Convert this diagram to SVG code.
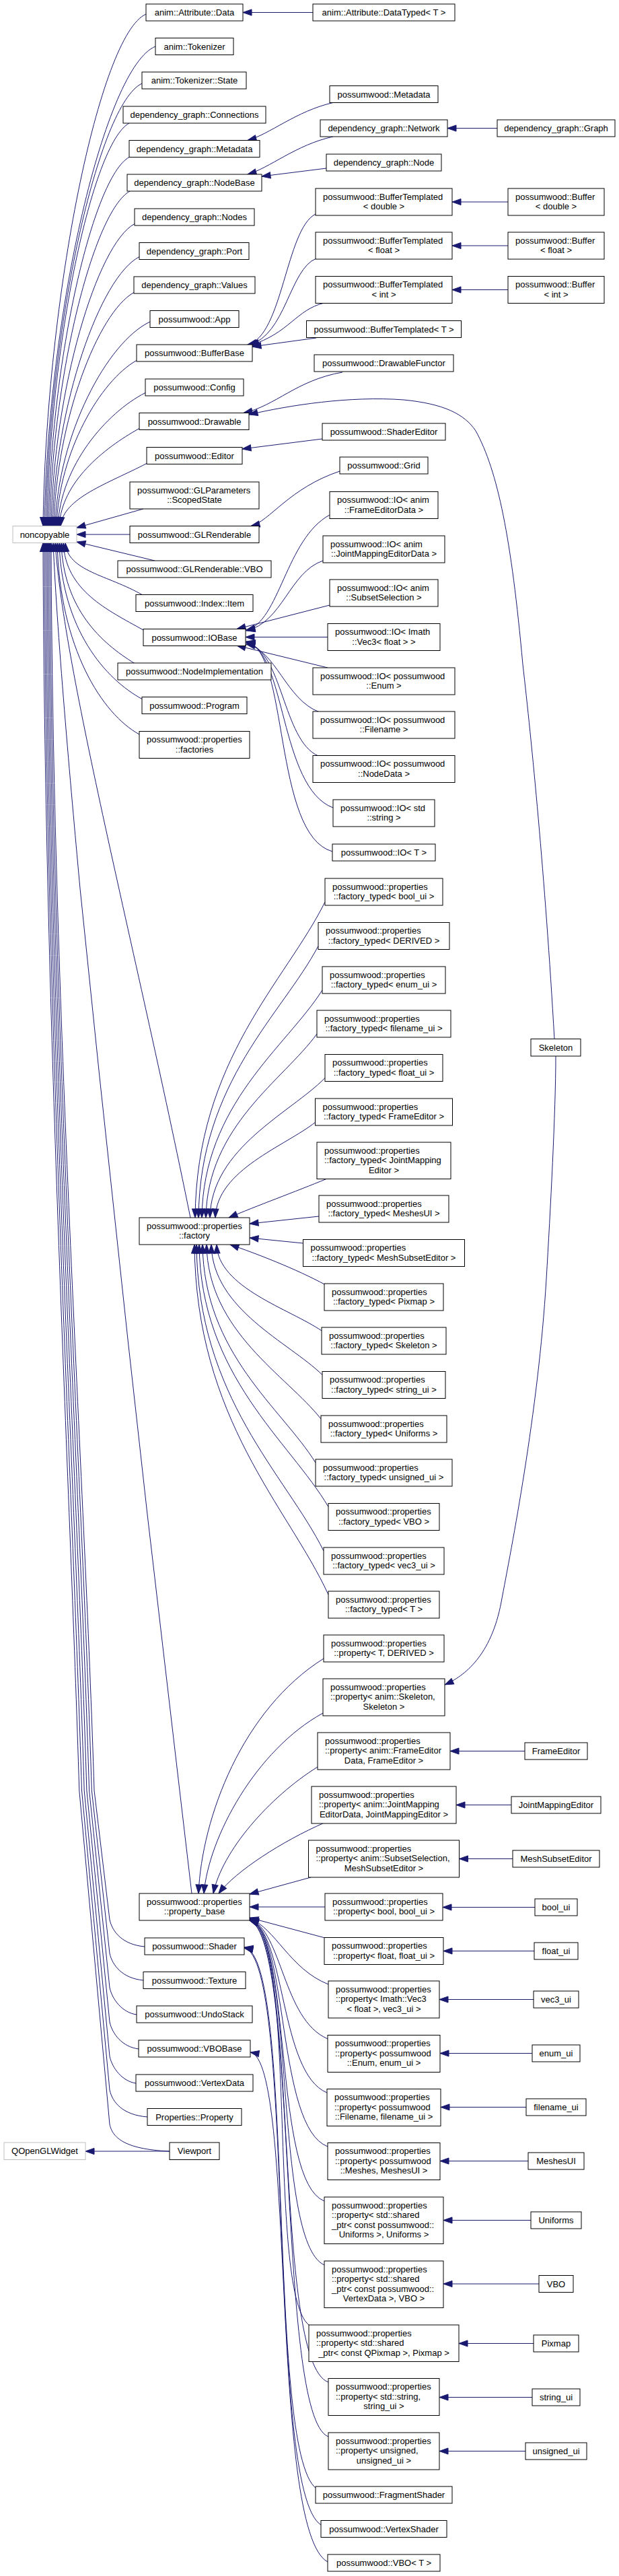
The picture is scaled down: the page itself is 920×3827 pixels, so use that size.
<svg xmlns="http://www.w3.org/2000/svg" width="920" height="3827" viewBox="0 0 920 3827">
<style>
text{font-family:"Liberation Sans",Arial,Helvetica,sans-serif;font-size:13px;fill:#000}
.c{text-anchor:middle}
.n rect{fill:#fff;stroke:#000;stroke-width:1}
.g rect{fill:#fff;stroke:#bfbfbf;stroke-width:1}
#edges path{fill:none;stroke:#191970;stroke-width:1;marker-start:url(#ah)}
</style>
<defs>
<marker id="ah" markerUnits="userSpaceOnUse" markerWidth="14" markerHeight="10" refX="0" refY="5" orient="auto" overflow="visible"><path d="M0,5 L13,0.4 L13,9.6 Z" fill="#191970" stroke="#191970" stroke-width="1"/></marker>
</defs>
<rect x="0" y="0" width="920" height="3827" fill="#fff"/>
<g id="edges">
<!-- noncopyable top -->
<path d="M64,781.5 C68.6,439.3 148.1,51 217,21"/>
<path d="M66,781.5 C71,460.9 156.75,99 231,69"/>
<path d="M68,781.5 C72.3,485.6 146.65,154 211,124"/>
<path d="M70,781.5 C73.7,512.2 137.1,213 192,183"/>
<path d="M72,781.5 C75.6,534.9 138,263.5 192,233.5"/>
<path d="M74,781.5 C77.6,557.6 139.45,314 193,284"/>
<path d="M76,781.5 C79.7,579.4 144.2,362.5 200,332.5"/>
<path d="M78,781.5 C81.9,601.5 148.95,411.5 207,381.5"/>
<path d="M80,781.5 C83.6,625.35 145.45,464.5 199,434.5"/>
<path d="M82,781.5 C86.2,644.9 159.55,508 223,478"/>
<path d="M84,781.5 C87.6,670.8 149.45,565.5 203,535.5"/>
<path d="M86,781.5 C89.9,692.4 157.5,613.5 216,583.5"/>
<path d="M88,781.5 C91.6,716.25 153.45,666.5 207,636.5"/>
<path d="M90,781.5 C93.8,739.65 160.4,718.5 218,688.5"/>
<path d="M114,784 L213,756"/>
<path d="M114,794 L193,794"/>
<path d="M114,805 L230,833"/>
<!-- noncopyable bottom near -->
<path d="M97,806.5 C100.5,849 160,854 212,884"/>
<path d="M94,806.5 C97.6,877.7 159.45,906 213,936"/>
<path d="M91,806.5 C94.3,905 151,955.5 200,985.5"/>
<path d="M88,806.5 C91.7,934.4 156.2,1009 212,1039"/>
<path d="M85,806.5 C88.7,963 152.1,1061 207,1091"/>
<!-- noncopyable long -->
<path d="M82,806.5 C95,1000 200,1400 283,1809"/>
<path d="M79,806.5 C85,950 108,1200 119,1320 L148,1600 L190,1990 L219,2250 L267,2660 L285,2813"/>
<path d="M76,806.5 C78,1500 126,2200 140,2660 L163,2852 C167,2870 182,2889 215,2892"/>
<path d="M74,806.5 C76,1500 122.3,2200 136.3,2660 L163,2902 C167,2920 182,2939 213,2942"/>
<path d="M72,806.5 C74,1500 118.6,2200 132.6,2660 L163,2953 C167,2971 182,2990 203,2993"/>
<path d="M70,806.5 C72,1500 114.9,2200 128.9,2660 L163,3004 C167,3022 182,3041 206,3044"/>
<path d="M68,806.5 C70,1500 111.2,2200 125.2,2660 L163,3055 C167,3073 182,3092 202,3095"/>
<path d="M66,806.5 C68,1500 107.5,2200 121.5,2660 L163,3105 C167,3123 182,3142 219,3145"/>
<path d="M64,806.5 C66,1500 103.8,2200 117.8,2660 L163,3156 C167,3174 182,3193 252,3196"/>
<!-- QOpenGLWidget -->
<path d="M127,3196 L252,3196"/>
<!-- top right groups -->
<path d="M361,18.5 L465,18.5"/>
<path d="M368,208.5 C400,200 440,165 495,152.5"/>
<path d="M368,259 C400,250 440,215 495,203"/>
<path d="M389,262 L485,250"/>
<path d="M665,190.5 L739,190.5"/>
<path d="M672,300 L755,300"/>
<path d="M672,365 L755,365"/>
<path d="M672,430.5 L755,430.5"/>
<path d="M368,512 C420,500 425,340 469,318"/>
<path d="M370,512.5 C425,498 430,400 470,384"/>
<path d="M372,513 C430,495 440,460 482,450"/>
<path d="M375,515 L470,502"/>
<path d="M362,613.5 C410,603 440,565 509,553"/>
<path d="M370,616 C430,602 520,588 600,594 C660,600 690,615 707,640 C740,700 760,800 777,987 C790,1100 810,1300 824,1543.5"/>
<path d="M360,667 L479,652"/>
<path d="M373,781.5 C400,775 430,725 505,700"/>
<!-- IOBase -->
<path d="M366,936 C415,925 425,800 490,765"/>
<path d="M366,937 C420,925 430,850 480,833"/>
<path d="M352,934.5 L490,899"/>
<path d="M365,946.5 L487,946.5"/>
<path d="M352,959 L487,992"/>
<path d="M366,957 C410,965 425,1040 475,1058"/>
<path d="M366,955 C420,965 420,1100 473,1123"/>
<path d="M366,954 C425,965 415,1170 495,1200"/>
<path d="M366,953 C430,965 405,1240 494,1265"/>
<!-- factory -->
<path d="M290,1809 C292,1574.5 425.1,1457.25 483,1340"/>
<path d="M295,1809 C297,1607.25 419.6,1506.4 473,1405.5"/>
<path d="M300,1809 C302,1640 425.3,1555.5 479,1471"/>
<path d="M306,1809 C308,1672.5 421.5,1604.25 471,1536"/>
<path d="M312,1809 C314,1705.25 431.7,1653.4 483,1601.5"/>
<path d="M320,1809 C322,1738 424.3,1702.5 469,1667"/>
<path d="M340,1809 C380,1792 440,1770 485,1751.5"/>
<path d="M371,1818 L474,1807"/>
<path d="M371,1839 L450.5,1847"/>
<path d="M342,1849 C380,1862 440,1885 484,1909"/>
<path d="M322,1849 C324,1913 431.2,1945 478,1977"/>
<path d="M314,1849 C316,1945.75 429.5,1994.1 479,2042.5"/>
<path d="M307,1849 C309,1978.5 426,2043.25 477,2108"/>
<path d="M301,1849 C303,2011 418.6,2092 469,2173"/>
<path d="M296,1849 C298,2043.75 430.4,2141.1 488,2238.5"/>
<path d="M292,1849 C294,2076.5 424.3,2190.25 481,2304"/>
<path d="M289,1849 C291,2109 428.3,2239 488,2369"/>
<!-- property_base -->
<path d="M295,2813 C300,2700 360,2540 481,2464"/>
<path d="M303,2813 C310,2730 380,2600 480,2545"/>
<path d="M317,2813 C330,2750 400,2670 472,2625"/>
<path d="M325,2813 C350,2780 420,2735 482,2708"/>
<path d="M371,2814 L462,2789"/>
<path d="M371,2833 L483,2833"/>
<path d="M371,2849 L483,2879"/>
<path d="M371,2850 C410,2865 430,2925 488,2948"/>
<path d="M371,2850 C420,2870 420,3000 487,3029"/>
<path d="M371,2851 C425,2870 415,3080 486,3109"/>
<path d="M371,2851 C430,2870 410,3160 487,3189"/>
<path d="M371,2852 C435,2875 405,3240 482,3270"/>
<path d="M371,2852 C440,2875 405,3330 482,3365"/>
<path d="M371,2852 C445,2875 395,3420 462,3456"/>
<path d="M371,2853 C445,2880 405,3510 488,3539"/>
<path d="M371,2853 C445,2880 410,3590 488,3620"/>
<!-- Shader, VBOBase -->
<path d="M363,2893 C440,2905 395,3640 470,3697"/>
<path d="M363,2894 C440,2910 395,3700 477,3751"/>
<path d="M372,3049 C440,3060 400,3760 487,3806"/>
<!-- Skeleton to property -->
<path d="M661,2503 C690,2490 730,2460 745,2380 C760,2300 800,2100 812,1900 C818,1800 826,1650 826,1569"/>
<!-- ui classes -->
<path d="M669,2601.5 L780,2601.5"/>
<path d="M678,2681.5 L760,2681.5"/>
<path d="M682.5,2761.5 L762,2761.5"/>
<path d="M658,2833.5 L795,2833.5"/>
<path d="M659,2898.5 L794,2898.5"/>
<path d="M653,2970.5 L793,2970.5"/>
<path d="M654,3050.5 L791,3050.5"/>
<path d="M655,3130.5 L782,3130.5"/>
<path d="M654,3210.5 L785,3210.5"/>
<path d="M659,3298.5 L789,3298.5"/>
<path d="M659,3393 L801,3393"/>
<path d="M682,3481.5 L793,3481.5"/>
<path d="M653,3561.5 L791,3561.5"/>
<path d="M653,3641.5 L781,3641.5"/>
</g>

<g class="g" id="n-noncopyable"><rect x="19" y="781.5" width="95" height="25"/><text class="c" x="66.5" y="798.5">noncopyable</text></g>
<g class="g" id="n-qopenglwidget"><rect x="6" y="3183" width="121" height="25.5"/><text class="c" x="66.5" y="3200">QOpenGLWidget</text></g>

<g class="n" id="n-attribute-data"><rect x="217" y="6" width="144" height="25"/><text class="c" x="289" y="23">anim::Attribute::Data</text></g>
<g class="n" id="n-tokenizer"><rect x="231" y="56.5" width="116" height="25"/><text class="c" x="289" y="73.5">anim::Tokenizer</text></g>
<g class="n" id="n-tokenizer-state"><rect x="211" y="107" width="155" height="25"/><text class="c" x="289" y="124">anim::Tokenizer::State</text></g>
<g class="n" id="n-connections"><rect x="183" y="158" width="212" height="25"/><text class="c" x="289" y="175">dependency_graph::Connections</text></g>
<g class="n" id="n-dg-metadata"><rect x="192" y="208.5" width="194" height="25"/><text class="c" x="289" y="225.5">dependency_graph::Metadata</text></g>
<g class="n" id="n-nodebase"><rect x="189" y="259" width="200" height="25"/><text class="c" x="289" y="276">dependency_graph::NodeBase</text></g>
<g class="n" id="n-nodes"><rect x="200" y="310" width="178" height="25"/><text class="c" x="289" y="327">dependency_graph::Nodes</text></g>
<g class="n" id="n-port"><rect x="207" y="360.5" width="163" height="25"/><text class="c" x="289" y="377.5">dependency_graph::Port</text></g>
<g class="n" id="n-values"><rect x="199" y="411" width="180" height="25"/><text class="c" x="289" y="428">dependency_graph::Values</text></g>
<g class="n" id="n-app"><rect x="223" y="461.5" width="132" height="25"/><text class="c" x="289" y="478.5">possumwood::App</text></g>
<g class="n" id="n-bufferbase"><rect x="203" y="512" width="172" height="25"/><text class="c" x="289" y="529">possumwood::BufferBase</text></g>
<g class="n" id="n-config"><rect x="216" y="563" width="146" height="25"/><text class="c" x="289" y="580">possumwood::Config</text></g>
<g class="n" id="n-drawable"><rect x="207" y="613.5" width="163" height="25"/><text class="c" x="289" y="630.5">possumwood::Drawable</text></g>
<g class="n" id="n-editor"><rect x="218" y="664.5" width="142" height="25"/><text class="c" x="289" y="681.5">possumwood::Editor</text></g>
<g class="n" id="n-glparameters"><rect x="193" y="716" width="192" height="40"/><text x="204" y="732.5">possumwood::GLParameters</text><text class="c" x="289" y="747">::ScopedState</text></g>
<g class="n" id="n-glrenderable"><rect x="193" y="781.5" width="192" height="25"/><text class="c" x="289" y="798.5">possumwood::GLRenderable</text></g>
<g class="n" id="n-glrenderable-vbo"><rect x="175" y="833" width="228" height="25"/><text class="c" x="289" y="850">possumwood::GLRenderable::VBO</text></g>
<g class="n" id="n-index-item"><rect x="202" y="883.5" width="174" height="25"/><text class="c" x="289" y="900.5">possumwood::Index::Item</text></g>
<g class="n" id="n-iobase"><rect x="213" y="934.5" width="152" height="25"/><text class="c" x="289" y="951.5">possumwood::IOBase</text></g>
<g class="n" id="n-nodeimplementation"><rect x="175" y="985" width="228" height="25"/><text class="c" x="289" y="1002">possumwood::NodeImplementation</text></g>
<g class="n" id="n-program"><rect x="211" y="1035.5" width="156" height="25"/><text class="c" x="289" y="1052.5">possumwood::Program</text></g>
<g class="n" id="n-factories"><rect x="207" y="1086.5" width="164" height="40"/><text x="218" y="1103">possumwood::properties</text><text class="c" x="289" y="1117.5">::factories</text></g>
<g class="n" id="n-factory"><rect x="207" y="1809" width="164" height="40"/><text x="218" y="1825.5">possumwood::properties</text><text class="c" x="289" y="1840">::factory</text></g>
<g class="n" id="n-property-base"><rect x="207" y="2813" width="164" height="40"/><text x="218" y="2829.5">possumwood::properties</text><text class="c" x="289" y="2844">::property_base</text></g>
<g class="n" id="n-shader"><rect x="215" y="2879" width="148" height="25"/><text class="c" x="289" y="2896">possumwood::Shader</text></g>
<g class="n" id="n-texture"><rect x="213" y="2929.5" width="152" height="25"/><text class="c" x="289" y="2946.5">possumwood::Texture</text></g>
<g class="n" id="n-undostack"><rect x="203" y="2980" width="172" height="25"/><text class="c" x="289" y="2997">possumwood::UndoStack</text></g>
<g class="n" id="n-vbobase"><rect x="206" y="3031" width="166" height="25"/><text class="c" x="289" y="3048">possumwood::VBOBase</text></g>
<g class="n" id="n-vertexdata"><rect x="202" y="3082" width="174" height="25"/><text class="c" x="289" y="3099">possumwood::VertexData</text></g>
<g class="n" id="n-properties-property"><rect x="219" y="3132.5" width="140" height="25"/><text class="c" x="289" y="3149.5">Properties::Property</text></g>
<g class="n" id="n-viewport"><rect x="252" y="3183" width="74" height="25.5"/><text class="c" x="289" y="3200">Viewport</text></g>

<g class="n" id="n-datatyped"><rect x="465" y="6" width="211" height="25"/><text class="c" x="570.5" y="23">anim::Attribute::DataTyped&lt; T &gt;</text></g>
<g class="n" id="n-pw-metadata"><rect x="490" y="127.5" width="161" height="25"/><text class="c" x="570.5" y="144.5">possumwood::Metadata</text></g>
<g class="n" id="n-network"><rect x="476" y="178" width="189" height="25"/><text class="c" x="570.5" y="195">dependency_graph::Network</text></g>
<g class="n" id="n-graph"><rect x="739" y="178" width="175" height="25"/><text class="c" x="826.5" y="195">dependency_graph::Graph</text></g>
<g class="n" id="n-node"><rect x="485" y="229" width="171" height="25"/><text class="c" x="570.5" y="246">dependency_graph::Node</text></g>
<g class="n" id="n-bt-double"><rect x="469" y="280" width="203" height="40"/><text x="480" y="296.5">possumwood::BufferTemplated</text><text class="c" x="570.5" y="311">&lt; double &gt;</text></g>
<g class="n" id="n-buffer-double"><rect x="755" y="280" width="143" height="40"/><text x="766" y="296.5">possumwood::Buffer</text><text class="c" x="826.5" y="311">&lt; double &gt;</text></g>
<g class="n" id="n-bt-float"><rect x="469" y="345" width="203" height="40"/><text x="480" y="361.5">possumwood::BufferTemplated</text><text class="c" x="570.5" y="376">&lt; float &gt;</text></g>
<g class="n" id="n-buffer-float"><rect x="755" y="345" width="143" height="40"/><text x="766" y="361.5">possumwood::Buffer</text><text class="c" x="826.5" y="376">&lt; float &gt;</text></g>
<g class="n" id="n-bt-int"><rect x="469" y="410.5" width="203" height="40"/><text x="480" y="427">possumwood::BufferTemplated</text><text class="c" x="570.5" y="441.5">&lt; int &gt;</text></g>
<g class="n" id="n-buffer-int"><rect x="755" y="410.5" width="143" height="40"/><text x="766" y="427">possumwood::Buffer</text><text class="c" x="826.5" y="441.5">&lt; int &gt;</text></g>
<g class="n" id="n-bt-t"><rect x="455.5" y="476.5" width="230" height="25"/><text class="c" x="570.5" y="493.5">possumwood::BufferTemplated&lt; T &gt;</text></g>
<g class="n" id="n-drawablefunctor"><rect x="467" y="527" width="207" height="25"/><text class="c" x="570.5" y="544">possumwood::DrawableFunctor</text></g>
<g class="n" id="n-shadereditor"><rect x="479" y="629" width="183" height="25"/><text class="c" x="570.5" y="646">possumwood::ShaderEditor</text></g>
<g class="n" id="n-grid"><rect x="505" y="679" width="131" height="25"/><text class="c" x="570.5" y="696">possumwood::Grid</text></g>
<g class="n" id="n-io-frameeditordata"><rect x="490" y="730.5" width="161" height="40"/><text x="501" y="747">possumwood::IO&lt; anim</text><text class="c" x="570.5" y="761.5">::FrameEditorData &gt;</text></g>
<g class="n" id="n-io-jointmapping"><rect x="480" y="796" width="181" height="40"/><text x="491" y="812.5">possumwood::IO&lt; anim</text><text class="c" x="570.5" y="827">::JointMappingEditorData &gt;</text></g>
<g class="n" id="n-io-subsetselection"><rect x="490" y="861" width="161" height="40"/><text x="501" y="877.5">possumwood::IO&lt; anim</text><text class="c" x="570.5" y="892">::SubsetSelection &gt;</text></g>
<g class="n" id="n-io-vec3"><rect x="487" y="926.5" width="167" height="40"/><text x="498" y="943">possumwood::IO&lt; Imath</text><text class="c" x="570.5" y="957.5">::Vec3&lt; float &gt; &gt;</text></g>
<g class="n" id="n-io-enum"><rect x="465" y="992" width="211" height="40"/><text x="476" y="1008.5">possumwood::IO&lt; possumwood</text><text class="c" x="570.5" y="1023">::Enum &gt;</text></g>
<g class="n" id="n-io-filename"><rect x="465" y="1057" width="211" height="40"/><text x="476" y="1073.5">possumwood::IO&lt; possumwood</text><text class="c" x="570.5" y="1088">::Filename &gt;</text></g>
<g class="n" id="n-io-nodedata"><rect x="465" y="1122.5" width="211" height="40"/><text x="476" y="1139">possumwood::IO&lt; possumwood</text><text class="c" x="570.5" y="1153.5">::NodeData &gt;</text></g>
<g class="n" id="n-io-string"><rect x="495" y="1188" width="151" height="40"/><text x="506" y="1204.5">possumwood::IO&lt; std</text><text class="c" x="570.5" y="1219">::string &gt;</text></g>
<g class="n" id="n-io-t"><rect x="494" y="1254" width="153" height="25"/><text class="c" x="570.5" y="1271">possumwood::IO&lt; T &gt;</text></g>

<g class="n" id="n-ft-bool"><rect x="483" y="1305" width="175" height="40"/><text x="494" y="1321.5">possumwood::properties</text><text class="c" x="570.5" y="1336">::factory_typed&lt; bool_ui &gt;</text></g>
<g class="n" id="n-ft-derived"><rect x="473" y="1370.5" width="195" height="40"/><text x="484" y="1387">possumwood::properties</text><text class="c" x="570.5" y="1401.5">::factory_typed&lt; DERIVED &gt;</text></g>
<g class="n" id="n-ft-enum"><rect x="479" y="1436" width="183" height="40"/><text x="490" y="1452.5">possumwood::properties</text><text class="c" x="570.5" y="1467">::factory_typed&lt; enum_ui &gt;</text></g>
<g class="n" id="n-ft-filename"><rect x="471" y="1501" width="199" height="40"/><text x="482" y="1517.5">possumwood::properties</text><text class="c" x="570.5" y="1532">::factory_typed&lt; filename_ui &gt;</text></g>
<g class="n" id="n-ft-float"><rect x="483" y="1566.5" width="175" height="40"/><text x="494" y="1583">possumwood::properties</text><text class="c" x="570.5" y="1597.5">::factory_typed&lt; float_ui &gt;</text></g>
<g class="n" id="n-ft-frameeditor"><rect x="468.5" y="1632" width="204" height="40"/><text x="479.5" y="1648.5">possumwood::properties</text><text class="c" x="570.5" y="1663">::factory_typed&lt; FrameEditor &gt;</text></g>
<g class="n" id="n-ft-jointmapping"><rect x="471" y="1697" width="199" height="54.5"/><text x="482" y="1713.5">possumwood::properties</text><text x="482" y="1728">::factory_typed&lt; JointMapping</text><text class="c" x="570.5" y="1742.5">Editor &gt;</text></g>
<g class="n" id="n-ft-meshesui"><rect x="474" y="1776" width="193" height="40"/><text x="485" y="1792.5">possumwood::properties</text><text class="c" x="570.5" y="1807">::factory_typed&lt; MeshesUI &gt;</text></g>
<g class="n" id="n-ft-meshsubseteditor"><rect x="450.5" y="1841.5" width="240" height="40"/><text x="461.5" y="1858">possumwood::properties</text><text class="c" x="570.5" y="1872.5">::factory_typed&lt; MeshSubsetEditor &gt;</text></g>
<g class="n" id="n-ft-pixmap"><rect x="482" y="1907" width="177" height="40"/><text x="493" y="1923.5">possumwood::properties</text><text class="c" x="570.5" y="1938">::factory_typed&lt; Pixmap &gt;</text></g>
<g class="n" id="n-ft-skeleton"><rect x="478" y="1972" width="185" height="40"/><text x="489" y="1988.5">possumwood::properties</text><text class="c" x="570.5" y="2003">::factory_typed&lt; Skeleton &gt;</text></g>
<g class="n" id="n-ft-string"><rect x="479" y="2037.5" width="183" height="40"/><text x="490" y="2054">possumwood::properties</text><text class="c" x="570.5" y="2068.5">::factory_typed&lt; string_ui &gt;</text></g>
<g class="n" id="n-ft-uniforms"><rect x="477" y="2103" width="187" height="40"/><text x="488" y="2119.5">possumwood::properties</text><text class="c" x="570.5" y="2134">::factory_typed&lt; Uniforms &gt;</text></g>
<g class="n" id="n-ft-unsigned"><rect x="469" y="2168" width="203" height="40"/><text x="480" y="2184.5">possumwood::properties</text><text class="c" x="570.5" y="2199">::factory_typed&lt; unsigned_ui &gt;</text></g>
<g class="n" id="n-ft-vbo"><rect x="488" y="2233.5" width="165" height="40"/><text x="499" y="2250">possumwood::properties</text><text class="c" x="570.5" y="2264.5">::factory_typed&lt; VBO &gt;</text></g>
<g class="n" id="n-ft-vec3"><rect x="481" y="2299" width="179" height="40"/><text x="492" y="2315.5">possumwood::properties</text><text class="c" x="570.5" y="2330">::factory_typed&lt; vec3_ui &gt;</text></g>
<g class="n" id="n-ft-t"><rect x="488" y="2364" width="165" height="40"/><text x="499" y="2380.5">possumwood::properties</text><text class="c" x="570.5" y="2395">::factory_typed&lt; T &gt;</text></g>

<g class="n" id="n-p-t-derived"><rect x="481" y="2429" width="179" height="40"/><text x="492" y="2445.5">possumwood::properties</text><text class="c" x="570.5" y="2460">::property&lt; T, DERIVED &gt;</text></g>
<g class="n" id="n-p-skeleton"><rect x="480" y="2494" width="181" height="55"/><text x="491" y="2510.5">possumwood::properties</text><text x="491" y="2525">::property&lt; anim::Skeleton,</text><text class="c" x="570.5" y="2539.5">Skeleton &gt;</text></g>
<g class="n" id="n-p-frameeditor"><rect x="472" y="2574" width="197" height="55"/><text x="483" y="2590.5">possumwood::properties</text><text x="483" y="2605">::property&lt; anim::FrameEditor</text><text class="c" x="570.5" y="2619.5">Data, FrameEditor &gt;</text></g>
<g class="n" id="n-p-jointmapping"><rect x="463" y="2654" width="215" height="55"/><text x="474" y="2670.5">possumwood::properties</text><text x="474" y="2685">::property&lt; anim::JointMapping</text><text class="c" x="570.5" y="2699.5">EditorData, JointMappingEditor &gt;</text></g>
<g class="n" id="n-p-subsetselection"><rect x="458.5" y="2734" width="224" height="55"/><text x="469.5" y="2750.5">possumwood::properties</text><text x="469.5" y="2765">::property&lt; anim::SubsetSelection,</text><text class="c" x="570.5" y="2779.5">MeshSubsetEditor &gt;</text></g>
<g class="n" id="n-p-bool"><rect x="483" y="2813" width="175" height="40"/><text x="494" y="2829.5">possumwood::properties</text><text class="c" x="570.5" y="2844">::property&lt; bool, bool_ui &gt;</text></g>
<g class="n" id="n-p-float"><rect x="482" y="2878.5" width="177" height="40"/><text x="493" y="2895">possumwood::properties</text><text class="c" x="570.5" y="2909.5">::property&lt; float, float_ui &gt;</text></g>
<g class="n" id="n-p-vec3"><rect x="488" y="2943" width="165" height="55"/><text x="499" y="2959.5">possumwood::properties</text><text x="499" y="2974">::property&lt; Imath::Vec3</text><text class="c" x="570.5" y="2988.5">&lt; float &gt;, vec3_ui &gt;</text></g>
<g class="n" id="n-p-enum"><rect x="487" y="3023.5" width="167" height="55"/><text x="498" y="3040">possumwood::properties</text><text x="498" y="3054.5">::property&lt; possumwood</text><text class="c" x="570.5" y="3069">::Enum, enum_ui &gt;</text></g>
<g class="n" id="n-p-filename"><rect x="486" y="3103.5" width="169" height="55"/><text x="497" y="3120">possumwood::properties</text><text x="497" y="3134.5">::property&lt; possumwood</text><text class="c" x="570.5" y="3149">::Filename, filename_ui &gt;</text></g>
<g class="n" id="n-p-meshes"><rect x="487" y="3183.5" width="167" height="55"/><text x="498" y="3200">possumwood::properties</text><text x="498" y="3214.5">::property&lt; possumwood</text><text class="c" x="570.5" y="3229">::Meshes, MeshesUI &gt;</text></g>
<g class="n" id="n-p-uniforms"><rect x="482" y="3264" width="177" height="69.5"/><text x="493" y="3280.5">possumwood::properties</text><text x="493" y="3295">::property&lt; std::shared</text><text x="493" y="3309.5">_ptr&lt; const possumwood::</text><text class="c" x="570.5" y="3324">Uniforms &gt;, Uniforms &gt;</text></g>
<g class="n" id="n-p-vertexdata"><rect x="482" y="3359" width="177" height="69.5"/><text x="493" y="3375.5">possumwood::properties</text><text x="493" y="3390">::property&lt; std::shared</text><text x="493" y="3404.5">_ptr&lt; const possumwood::</text><text class="c" x="570.5" y="3419">VertexData &gt;, VBO &gt;</text></g>
<g class="n" id="n-p-pixmap"><rect x="459" y="3454" width="223" height="54.5"/><text x="470" y="3470.5">possumwood::properties</text><text x="470" y="3485">::property&lt; std::shared</text><text class="c" x="570.5" y="3499.5">_ptr&lt; const QPixmap &gt;, Pixmap &gt;</text></g>
<g class="n" id="n-p-string"><rect x="488" y="3533.5" width="165" height="55"/><text x="499" y="3550">possumwood::properties</text><text x="499" y="3564.5">::property&lt; std::string,</text><text class="c" x="570.5" y="3579">string_ui &gt;</text></g>
<g class="n" id="n-p-unsigned"><rect x="488" y="3614" width="165" height="55"/><text x="499" y="3630.5">possumwood::properties</text><text x="499" y="3645">::property&lt; unsigned,</text><text class="c" x="570.5" y="3659.5">unsigned_ui &gt;</text></g>
<g class="n" id="n-fragmentshader"><rect x="469" y="3694" width="203" height="25"/><text class="c" x="570.5" y="3711">possumwood::FragmentShader</text></g>
<g class="n" id="n-vertexshader"><rect x="477" y="3744.5" width="187" height="25"/><text class="c" x="570.5" y="3761.5">possumwood::VertexShader</text></g>
<g class="n" id="n-vbo-t"><rect x="487" y="3795" width="167" height="25"/><text class="c" x="570.5" y="3812">possumwood::VBO&lt; T &gt;</text></g>

<g class="n" id="n-skeleton"><rect x="789" y="1543.5" width="74" height="25.5"/><text class="c" x="826" y="1560.5">Skeleton</text></g>
<g class="n" id="n-frameeditor"><rect x="780" y="2589" width="93" height="25"/><text class="c" x="826.5" y="2606">FrameEditor</text></g>
<g class="n" id="n-jointmappingeditor"><rect x="760" y="2669" width="133" height="25"/><text class="c" x="826.5" y="2686">JointMappingEditor</text></g>
<g class="n" id="n-meshsubseteditor"><rect x="762" y="2749" width="129" height="25"/><text class="c" x="826.5" y="2766">MeshSubsetEditor</text></g>
<g class="n" id="n-bool-ui"><rect x="795" y="2821" width="63" height="25"/><text class="c" x="826.5" y="2838">bool_ui</text></g>
<g class="n" id="n-float-ui"><rect x="794" y="2886" width="65" height="25"/><text class="c" x="826.5" y="2903">float_ui</text></g>
<g class="n" id="n-vec3-ui"><rect x="793" y="2958" width="67" height="25"/><text class="c" x="826.5" y="2975">vec3_ui</text></g>
<g class="n" id="n-enum-ui"><rect x="791" y="3038" width="71" height="25"/><text class="c" x="826.5" y="3055">enum_ui</text></g>
<g class="n" id="n-filename-ui"><rect x="782" y="3118" width="89" height="25"/><text class="c" x="826.5" y="3135">filename_ui</text></g>
<g class="n" id="n-meshesui"><rect x="785" y="3198" width="83" height="25"/><text class="c" x="826.5" y="3215">MeshesUI</text></g>
<g class="n" id="n-uniforms"><rect x="789" y="3286" width="75" height="25"/><text class="c" x="826.5" y="3303">Uniforms</text></g>
<g class="n" id="n-vbo"><rect x="801" y="3380.5" width="51" height="25"/><text class="c" x="826.5" y="3397.5">VBO</text></g>
<g class="n" id="n-pixmap"><rect x="793" y="3469" width="67" height="25"/><text class="c" x="826.5" y="3486">Pixmap</text></g>
<g class="n" id="n-string-ui"><rect x="791" y="3549" width="71" height="25"/><text class="c" x="826.5" y="3566">string_ui</text></g>
<g class="n" id="n-unsigned-ui"><rect x="781" y="3629" width="91" height="25"/><text class="c" x="826.5" y="3646">unsigned_ui</text></g>
</svg>
